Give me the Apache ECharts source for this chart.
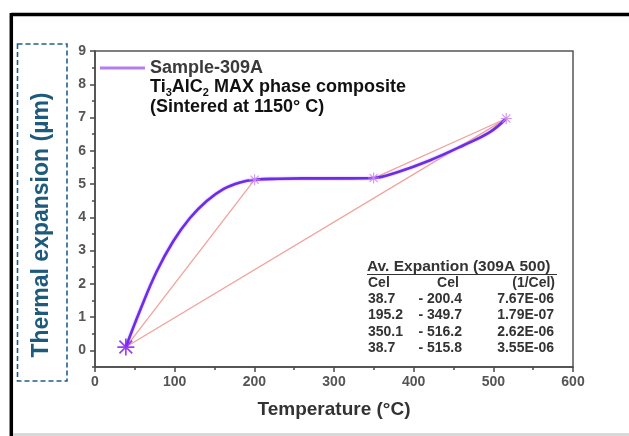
<!DOCTYPE html>
<html>
<head>
<meta charset="utf-8">
<script src="https://cdn.jsdelivr.net/npm/echarts@6/dist/echarts.min.js"></script>
<style>
  html, body { margin: 0; padding: 0; background: #fff; }
  #chart { width: 629px; height: 436px; }
</style>
</head>
<body>
<div id="chart"></div>
<script>
// Dilatometry curve of sample 309A (temperature in °C, expansion in µm)
const curveTemp = [38.7, 56.5, 77.4, 98.2, 119.2, 140.2, 161, 182, 200.4, 230, 260, 290, 320, 349.7, 378.5, 420, 462, 495.6, 516.2];
const curveExp  = [0.1, 1.2, 2.37, 3.28, 3.98, 4.49, 4.85, 5.05, 5.13, 5.16, 5.17, 5.17, 5.17, 5.18, 5.35, 5.71, 6.16, 6.56, 6.97];

// Measured points marked with stars
const markTemp = [38.7, 200.4, 349.7, 516.2];
const markExp  = [0.1, 5.13, 5.18, 6.97];

// Secant segments used for the average expansion coefficients
const chordT0 = [38.7, 195.2, 350.1, 38.7];
const chordV0 = [0.1, 5.12, 5.18, 0.1];
const chordT1 = [200.4, 349.7, 516.2, 515.8];
const chordV1 = [5.13, 5.18, 6.97, 6.96];

// Average expansion table
const tableTitle = 'Av. Expantion (309A 500)';
const tableHead = ['Cel', 'Cel', '(1/Cel)'];
const rangeFrom = ['38.7', '195.2', '350.1', '38.7'];
const rangeTo   = ['- 200.4', '- 349.7', '- 516.2', '- 515.8'];
const coeffs    = ['7.67E-06', '1.79E-07', '2.62E-06', '3.55E-06'];

// Axis ticks
const yMajor = [0, 1, 2, 3, 4, 5, 6, 7, 8, 9];
const yMinor = [-0.5, 0.5, 1.5, 2.5, 3.5, 4.5, 5.5, 6.5, 7.5, 8.5];

const FONT = "'Liberation Sans', Arial, Helvetica, sans-serif";
const AX = '#4a4a4a';

const chart = echarts.init(document.getElementById('chart'), null, { renderer: 'canvas' });

// Asterisk marker built from four thin bars
const STAR = 'path://M0 9L20 9L20 11L0 11Z M9 0L11 0L11 20L9 20Z M1.8 3.2L3.2 1.8L18.2 16.8L16.8 18.2Z M16.8 1.8L18.2 3.2L3.2 18.2L1.8 16.8Z';

const chordSeries = chordT0.map((t0, i) => ({
  type: 'line',
  name: 'chord' + i,
  data: [[t0, chordV0[i]], [chordT1[i], chordV1[i]]],
  showSymbol: false,
  silent: true,
  lineStyle: { color: '#f2a29c', width: 1.3 },
  z: 2
}));

const tableX1 = 368, tableX2 = 462, tableX3 = 554, tableY0 = 266.5, rowH = 16.3;
const tableText = [];
const tStyle = (text, x, y, align, size) => ({
  type: 'text',
  style: { text, x, y, fill: '#333', font: 'bold ' + (size || 14) + 'px ' + FONT, textAlign: align, textVerticalAlign: 'middle' }
});
tableText.push(tStyle(tableTitle, tableX1 - 1, tableY0, 'left', 15.5));
tableText.push({ type: 'line', shape: { x1: tableX1 - 1, y1: tableY0 + 8, x2: tableX3 + 3, y2: tableY0 + 8 }, style: { stroke: '#333', lineWidth: 1 } });
tableText.push(tStyle(tableHead[0], tableX1, tableY0 + rowH, 'left'));
tableText.push(tStyle(tableHead[1], tableX2 - 14, tableY0 + rowH, 'center'));
tableText.push(tStyle(tableHead[2], tableX3 + 1, tableY0 + rowH, 'right'));
rangeFrom.forEach((f, i) => {
  const y = tableY0 + rowH * (i + 2);
  tableText.push(tStyle(f, tableX1, y, 'left'));
  tableText.push(tStyle(rangeTo[i], tableX2, y, 'right'));
  tableText.push(tStyle(coeffs[i], tableX3, y, 'right'));
});

const option = {
  backgroundColor: '#fff',
  animation: false,
  grid: { left: 95, right: 56, top: 51, bottom: 69, show: true, borderColor: '#555', borderWidth: 1.5, backgroundColor: 'transparent' },
  legend: {
    left: 95, top: 54,
    icon: 'rect', itemWidth: 45, itemHeight: 3, itemGap: 10,
    textStyle: { fontSize: 18, fontWeight: 'bold', color: '#3a3a3a', fontFamily: FONT },
    data: [{ name: 'Sample-309A', itemStyle: { color: '#b57ef0' } }]
  },
  xAxis: {
    type: 'value', min: 0, max: 600, interval: 100,
    axisLine: { show: true, onZero: false, lineStyle: { color: AX, width: 1.5 } },
    axisTick: { show: true, length: 5, lineStyle: { color: AX, width: 1.5 } },
    minorTick: { show: true, splitNumber: 2, length: 3, lineStyle: { color: AX, width: 1.5 } },
    axisLabel: { color: '#555', fontSize: 14, fontWeight: 'bold', fontFamily: FONT, margin: 8 },
    splitLine: { show: false }
  },
  yAxis: [
    {
      type: 'value', min: -0.5, max: 9,
      axisLine: { show: true, onZero: false, lineStyle: { color: AX, width: 1.5 } },
      axisTick: { show: true, length: 5, customValues: yMajor, lineStyle: { color: AX, width: 1.5 } },
      axisLabel: { customValues: yMajor, color: '#555', fontSize: 14, fontWeight: 'bold', fontFamily: FONT, margin: 9 },
      splitLine: { show: false }
    },
    {
      type: 'value', min: -0.5, max: 9, position: 'left',
      axisLine: { show: false },
      axisTick: { show: true, length: 3, customValues: yMinor, lineStyle: { color: AX, width: 1.5 } },
      axisLabel: { show: false },
      splitLine: { show: false }
    }
  ],
  series: [
    ...chordSeries,
    {
      type: 'line',
      name: 'Sample-309A',
      data: curveTemp.map((t, i) => [t, curveExp[i]]),
      smooth: 0.4,
      showSymbol: false,
      lineStyle: { color: '#6a2ee6', width: 2.6, shadowColor: 'rgba(190,120,255,0.8)', shadowBlur: 2 },
      itemStyle: { color: '#b57ef0' },
      z: 3
    },
    {
      type: 'scatter',
      name: 'points',
      data: markTemp.map((t, i) => [t, markExp[i]]),
      symbol: STAR,
      symbolSize: (v, p) => (p.dataIndex === 0 ? 17 : 11),
      itemStyle: { color: (p) => (p.dataIndex === 0 ? '#8a2cf0' : '#cf8af2'), opacity: 0.9 },
      z: 5
    }
  ],
  graphic: [
    // outer frame
    { type: 'line', shape: { x1: 11, y1: 14.5, x2: 629, y2: 14.5 }, style: { stroke: '#000', lineWidth: 3.5 } },
    { type: 'line', shape: { x1: 11.3, y1: 13, x2: 11.3, y2: 436 }, style: { stroke: '#000', lineWidth: 3.5 } },
    { type: 'line', shape: { x1: 13, y1: 434.5, x2: 629, y2: 434.5 }, style: { stroke: '#d8d8d8', lineWidth: 3 } },
    // dashed box around the y-axis title
    { type: 'rect', shape: { x: 17.5, y: 44, width: 49.5, height: 337 }, style: { fill: 'none', stroke: '#1f5f85', lineWidth: 1.6, lineDash: [5, 3] } },
    {
      type: 'text', x: 42, y: 225, rotation: Math.PI / 2,
      style: { text: 'Thermal expansion (µm)', x: 0, y: 0, fill: '#1e5a7c', font: 'bold 23px ' + FONT, textAlign: 'center', textVerticalAlign: 'middle' }
    },
    {
      type: 'text', x: 334, y: 409.5,
      style: { text: 'Temperature (°C)', fill: '#333', font: 'bold 19px ' + FONT, textAlign: 'center', textVerticalAlign: 'middle' }
    },
    {
      type: 'text', x: 150, y: 87,
      style: {
        text: 'Ti{s|3}AlC{s|2} MAX phase composite',
        fill: '#111', font: 'bold 18px ' + FONT, textVerticalAlign: 'middle', lineHeight: 22,
        rich: { s: { fontSize: 11, fontWeight: 'bold', fontFamily: FONT, fill: '#111', verticalAlign: 'bottom', lineHeight: 22 } }
      }
    },
    {
      type: 'text', x: 150, y: 107,
      style: { text: '(Sintered at 1150° C)', fill: '#111', font: 'bold 18px ' + FONT, textVerticalAlign: 'middle' }
    },
    ...tableText
  ]
};

chart.setOption(option);
</script>
</body>
</html>
